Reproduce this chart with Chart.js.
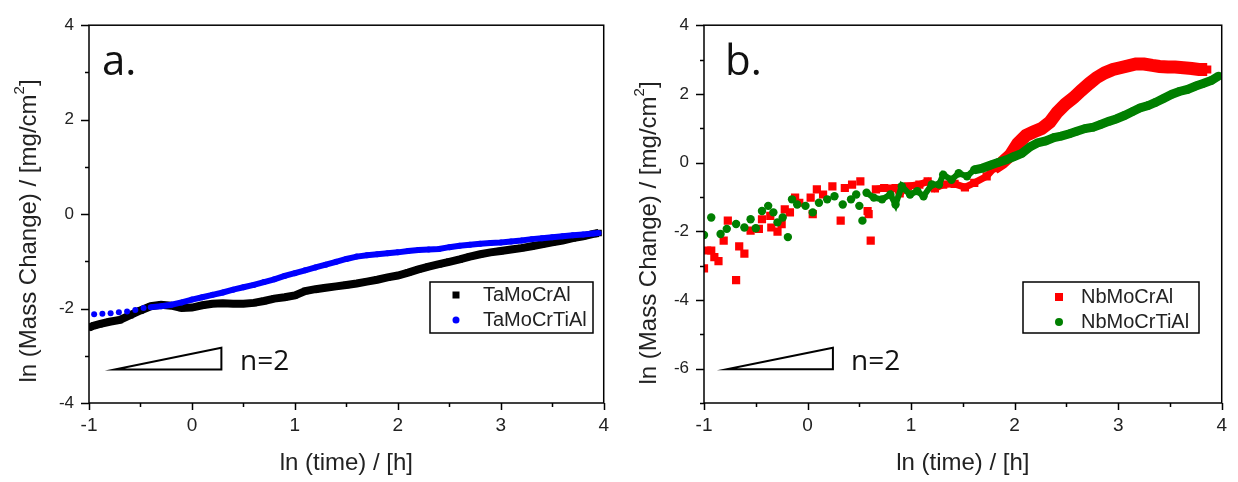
<!DOCTYPE html>
<html>
<head>
<meta charset="utf-8">
<script src="https://cdn.jsdelivr.net/npm/chart.js@4/dist/chart.umd.min.js"></script>
<style>
  html, body { margin: 0; padding: 0; background: #fff; }
  .wrap { position: relative; width: 1238px; height: 482px; }
  .panel { position: absolute; top: 0; height: 482px; }
  #panelA { left: 0; width: 620px; }
  #panelB { left: 620px; width: 618px; }
</style>
</head>
<body>
<div class="wrap">
  <div class="panel" id="panelA"><canvas id="chartA"></canvas></div>
  <div class="panel" id="panelB"><canvas id="chartB"></canvas></div>
</div>
<script>
// Axis ranges and labels
const xRange = [-1, 4];
const yRangeA = [-4, 4];
const yRangeB = [-7, 4];
const xTitle = 'ln (time) / [h]';
const yTitle = ['ln (Mass Change) / [mg/cm', '2', ']'];

// Panel a
const seriesA = ['TaMoCrAl', 'TaMoCrTiAl'];
const timeTa = [-1.0, -0.95, -0.9, -0.8, -0.7, -0.6, -0.5, -0.4, -0.3, -0.2, -0.1, 0, 0.1, 0.2, 0.3, 0.4, 0.5, 0.6, 0.7, 0.8, 0.9, 1.0,
  1.1, 1.2, 1.3, 1.4, 1.5, 1.6, 1.7, 1.8, 1.9, 2.0, 2.1, 2.2, 2.3, 2.4, 2.5, 2.6, 2.7, 2.8, 2.9, 3.0, 3.1, 3.2, 3.3, 3.4, 3.5, 3.6, 3.7, 3.8, 3.9, 3.95];
const massTa = [-2.40, -2.36, -2.33, -2.28, -2.24, -2.14, -2.04, -1.95, -1.92, -1.94, -1.99, -1.98, -1.93, -1.90, -1.89, -1.90, -1.90, -1.88, -1.84, -1.79, -1.76, -1.72,
  -1.63, -1.59, -1.56, -1.53, -1.50, -1.47, -1.43, -1.39, -1.34, -1.30, -1.24, -1.17, -1.11, -1.06, -1.01, -0.96, -0.90, -0.85, -0.81, -0.78, -0.75, -0.72, -0.68, -0.64, -0.60, -0.56, -0.51, -0.47, -0.42, -0.40];
const timeTaTi = [-0.95, -0.87, -0.79, -0.71, -0.63, -0.55, -0.47, -0.4, -0.3, -0.2, -0.1, 0, 0.1, 0.2, 0.3, 0.4, 0.5, 0.6, 0.7, 0.8, 0.9, 1.0,
  1.1, 1.2, 1.3, 1.4, 1.5, 1.6, 1.7, 1.8, 1.9, 2.0, 2.1, 2.2, 2.3, 2.4, 2.5, 2.6, 2.7, 2.8, 2.9, 3.0, 3.1, 3.2, 3.3, 3.4, 3.5, 3.6, 3.7, 3.8, 3.9, 3.95];
const massTaTi = [-2.12, -2.11, -2.10, -2.08, -2.06, -2.03, -1.99, -1.97, -1.95, -1.92, -1.87, -1.81, -1.76, -1.71, -1.66, -1.60, -1.55, -1.50, -1.44, -1.38, -1.31, -1.25,
  -1.19, -1.13, -1.07, -1.01, -0.95, -0.90, -0.87, -0.85, -0.83, -0.81, -0.78, -0.76, -0.75, -0.74, -0.70, -0.67, -0.65, -0.63, -0.61, -0.60, -0.58, -0.56, -0.53, -0.51, -0.49, -0.47, -0.45, -0.43, -0.41, -0.40];

// Panel b
const seriesB = ['NbMoCrAl', 'NbMoCrTiAl'];
const timeNb = [-1.0, -0.97, -0.93, -0.90, -0.86, -0.81, -0.77, -0.69, -0.66, -0.61, -0.55, -0.47, -0.44, -0.36, -0.35, -0.29, -0.25, -0.22, -0.17, -0.12, -0.08,
  0.03, 0.05, 0.09, 0.15, 0.24, 0.32, 0.36, 0.43, 0.51, 0.58, 0.59, 0.61, 0.66, 0.74, 0.85, 0.89, 0.97, 1.08, 1.16, 1.23, 1.31, 1.42, 1.52, 1.61, 1.73, 1.80, 1.88, 1.96,
  2.03, 2.11, 2.18, 2.26, 2.34, 2.41, 2.49, 2.57, 2.64, 2.72, 2.79, 2.87, 2.95, 3.02, 3.10, 3.17, 3.25, 3.33, 3.40, 3.48, 3.55, 3.63, 3.71, 3.78, 3.86];
const massNb = [-3.08, -2.56, -2.56, -2.75, -2.87, -2.27, -1.69, -3.42, -2.44, -2.65, -1.98, -1.93, -1.65, -1.55, -1.89, -2.01, -1.79, -1.36, -1.45, -1.02, -1.17,
  -1.02, -1.50, -0.78, -0.93, -0.69, -1.69, -0.74, -0.64, -0.55, -1.41, -1.50, -2.27, -0.78, -0.74, -0.74, -0.90, -0.69, -0.64, -0.55, -0.75, -0.64, -0.62, -0.72, -0.59, -0.40, -0.16, 0.00, 0.22,
  0.55, 0.79, 0.89, 0.99, 1.18, 1.46, 1.70, 1.89, 2.09, 2.30, 2.47, 2.61, 2.71, 2.76, 2.82, 2.87, 2.87, 2.83, 2.80, 2.78, 2.78, 2.76, 2.74, 2.71, 2.71];
const timeNbTi = [-1.0, -0.93, -0.84, -0.78, -0.69, -0.61, -0.55, -0.50, -0.44, -0.38, -0.33, -0.29, -0.24, -0.19, -0.15, -0.10, -0.02, 0.05, 0.11, 0.19, 0.26,
  0.34, 0.42, 0.47, 0.50, 0.53, 0.57, 0.64, 0.72, 0.80, 0.85, 0.91, 0.99, 1.06, 1.12, 1.20, 1.27, 1.31, 1.39, 1.46, 1.54, 1.61, 1.69, 1.77, 1.84, 1.92, 1.99,
  2.07, 2.15, 2.22, 2.30, 2.38, 2.45, 2.53, 2.60, 2.68, 2.76, 2.83, 2.91, 2.98, 3.06, 3.14, 3.21, 3.29, 3.36, 3.44, 3.52, 3.59, 3.67, 3.75, 3.82, 3.90, 3.97];
const massNbTi = [-2.11, -1.60, -2.08, -1.93, -1.79, -1.89, -1.65, -1.91, -1.41, -1.26, -1.45, -1.74, -1.60, -2.17, -1.07, -1.22, -1.26, -1.45, -1.17, -1.07, -0.98,
  -1.22, -1.07, -0.93, -1.26, -1.69, -0.88, -1.02, -1.07, -0.93, -1.22, -0.69, -0.93, -0.83, -0.98, -0.64, -0.64, -0.35, -0.50, -0.31, -0.40, -0.21, -0.16, -0.07, 0.00, 0.08, 0.17,
  0.27, 0.46, 0.57, 0.63, 0.73, 0.77, 0.84, 0.91, 0.99, 1.03, 1.11, 1.20, 1.27, 1.37, 1.49, 1.59, 1.66, 1.75, 1.87, 1.99, 2.07, 2.13, 2.23, 2.30, 2.39, 2.52];

// "n=2" slope triangles, in data units
const slopeA = [[-0.75, -3.29], [0.286, -3.29], [0.286, -2.83]];
const slopeB = [[-0.78, -6.02], [0.245, -6.02], [0.245, -5.39]];

const FONT = '"Liberation Sans", Arial, sans-serif';
const INK = '#222';

const toPoints = (xs, ys) => xs.map((x, i) => ({ x: x, y: ys[i] }));
// dense stretches of a series are drawn as a thick band, sparse ones as bare markers
const bandFrom = (color, x0) => ctx => ctx.p0.parsed.x >= x0 ? color : 'transparent';
const bandWidth = (x1, thin, thick) => ctx => ctx.p0.parsed.x >= x1 ? thick : thin;

// frame, ticks, panel letter, slope triangle, y title, legend
const decoPlugin = {
  id: 'deco',
  afterDraw(chart, args, o) {
    const ctx = chart.ctx;
    const { left, right, top, bottom } = chart.chartArea;
    const xs = chart.scales.x, ys = chart.scales.y;
    ctx.save();
    ctx.strokeStyle = '#000';
    ctx.lineWidth = 1.5;
    ctx.strokeRect(left, top, right - left, bottom - top);
    ctx.beginPath();
    xs.ticks.forEach((t, i) => {
      const px = Math.round(xs.getPixelForTick(i)) + 0.5;
      const len = t.label === '' ? 4 : 7;
      ctx.moveTo(px, bottom);
      ctx.lineTo(px, bottom + len);
    });
    ys.ticks.forEach((t, i) => {
      const py = Math.round(ys.getPixelForTick(i)) + 0.5;
      const len = t.label === '' ? 4 : 8;
      ctx.moveTo(left, py);
      ctx.lineTo(left - len, py);
    });
    ctx.stroke();

    // slope triangle
    ctx.lineWidth = 2;
    ctx.beginPath();
    o.tri.forEach((p, i) => {
      const px = xs.getPixelForValue(p[0]), py = ys.getPixelForValue(p[1]);
      if (i === 0) ctx.moveTo(px, py); else ctx.lineTo(px, py);
    });
    ctx.closePath();
    ctx.stroke();

    ctx.fillStyle = '#111';
    ctx.textAlign = 'left';
    ctx.textBaseline = 'alphabetic';
    ctx.font = '28px "Open Sans", sans-serif';
    ctx.fillText('n=2', o.nPos[0], o.nPos[1]);
    ctx.font = '42px "Open Sans", sans-serif';
    ctx.fillText(o.letter, o.letterPos[0], o.letterPos[1]);

    // y axis title with superscript
    ctx.translate(o.titlePos[0], o.titlePos[1]);
    ctx.rotate(-Math.PI / 2);
    ctx.fillStyle = INK;
    ctx.textBaseline = 'middle';
    const big = '24px ' + FONT, small = '15px ' + FONT;
    ctx.font = big;
    const w1 = ctx.measureText(yTitle[0]).width;
    const w3 = ctx.measureText(yTitle[2]).width;
    ctx.font = small;
    const w2 = ctx.measureText(yTitle[1]).width;
    let tx = -(w1 + w2 + w3) / 2;
    ctx.font = big;
    ctx.fillText(yTitle[0], tx, 0);
    tx += w1;
    ctx.font = small;
    ctx.fillText(yTitle[1], tx, -9);
    tx += w2;
    ctx.font = big;
    ctx.fillText(yTitle[2], tx, 0);
    ctx.restore();

    // legend box
    const lg = o.legend;
    ctx.save();
    ctx.fillStyle = '#fff';
    ctx.fillRect(lg.box[0], lg.box[1], lg.box[2], lg.box[3]);
    ctx.strokeStyle = '#000';
    ctx.lineWidth = 1.5;
    ctx.strokeRect(lg.box[0], lg.box[1], lg.box[2], lg.box[3]);
    chart.data.datasets.forEach((ds, i) => {
      const y = lg.rows[i];
      ctx.fillStyle = ds.pointBackgroundColor;
      const r = lg.size;
      if (ds.pointStyle === 'rect') {
        ctx.fillRect(lg.markerX - r, y - r, 2 * r, 2 * r);
      } else {
        ctx.beginPath();
        ctx.arc(lg.markerX, y, r, 0, Math.PI * 2);
        ctx.fill();
      }
      ctx.fillStyle = INK;
      ctx.font = '20px ' + FONT;
      ctx.textAlign = 'left';
      ctx.textBaseline = 'middle';
      ctx.fillText(ds.label, lg.textX, y);
    });
    ctx.restore();
  }
};

const makeOptions = (yRange, yWidth, rightPad, deco) => ({
  responsive: true,
  maintainAspectRatio: false,
  animation: false,
  layout: { padding: { top: 20, right: rightPad, left: 0, bottom: 0 } },
  plugins: {
    legend: { display: false },
    tooltip: { enabled: false },
    deco: deco
  },
  scales: {
    x: {
      type: 'linear',
      min: xRange[0],
      max: xRange[1],
      grid: { display: false, drawTicks: false },
      border: { display: false },
      afterFit: s => { s.height = 79; },
      ticks: {
        stepSize: 0.5,
        autoSkip: false,
        maxRotation: 0,
        padding: 11,
        color: INK,
        font: { family: FONT, size: 19 },
        callback: v => Number.isInteger(v) ? v : ''
      },
      title: {
        display: true,
        text: xTitle,
        color: INK,
        font: { family: FONT, size: 24 },
        padding: { top: 0, bottom: 4 }
      }
    },
    y: {
      type: 'linear',
      min: yRange[0],
      max: yRange[1],
      grid: { display: false, drawTicks: false },
      border: { display: false },
      afterFit: s => { s.width = yWidth; },
      ticks: {
        stepSize: 1,
        autoSkip: false,
        padding: 15,
        color: INK,
        font: { family: FONT, size: 17 },
        callback: v => v % 2 === 0 ? v : ''
      }
    }
  }
});

new Chart(document.getElementById('chartA'), {
  type: 'scatter',
  data: {
    datasets: [{
      label: seriesA[0],
      data: toPoints(timeTa, massTa),
      pointStyle: 'rect',
      pointRadius: 4.6,
      pointBackgroundColor: '#000',
      pointBorderWidth: 0,
      showLine: true,
      borderWidth: 8,
      borderColor: '#000',
      order: 1
    }, {
      label: seriesA[1],
      data: toPoints(timeTaTi, massTaTi),
      pointStyle: 'circle',
      pointRadius: 3,
      pointBackgroundColor: '#0000ff',
      pointBorderWidth: 0,
      showLine: true,
      borderWidth: 6,
      borderColor: '#0000ff',
      segment: { borderColor: bandFrom('#0000ff', -0.45) },
      order: 0
    }]
  },
  options: makeOptions(yRangeA, 89, 10, {
    tri: slopeA,
    nPos: [240, 370],
    letter: 'a.',
    letterPos: [102, 75],
    titlePos: [29, 231],
    legend: { box: [430, 282, 163, 51], markerX: 456, textX: 483, rows: [295, 320], size: 3.5 }
  }),
  plugins: [decoPlugin]
});

new Chart(document.getElementById('chartB'), {
  type: 'scatter',
  data: {
    datasets: [{
      label: seriesB[0],
      data: toPoints(timeNb, massNb),
      pointStyle: 'rect',
      pointRadius: 5.8,
      pointBackgroundColor: '#ff0000',
      pointBorderWidth: 0,
      showLine: true,
      borderWidth: 8,
      borderColor: '#ff0000',
      segment: {
        borderColor: bandFrom('#ff0000', 0.64),
        borderWidth: bandWidth(1.75, 7, 13)
      },
      order: 1
    }, {
      label: seriesB[1],
      data: toPoints(timeNbTi, massNbTi),
      pointStyle: 'circle',
      pointRadius: 4.2,
      pointBackgroundColor: '#007f00',
      pointBorderWidth: 0,
      showLine: true,
      borderWidth: 8,
      borderColor: '#007f00',
      segment: {
        borderColor: bandFrom('#007f00', 0.55),
        borderWidth: bandWidth(1.55, 6, 9)
      },
      order: 0
    }]
  },
  options: makeOptions(yRangeB, 84, 16, {
    tri: slopeB,
    nPos: [231, 370],
    letter: 'b.',
    letterPos: [105, 75],
    titlePos: [29, 233],
    legend: { box: [403, 282, 176, 51], markerX: 439, textX: 461, rows: [297, 322], size: 4 }
  }),
  plugins: [decoPlugin]
});
</script>
</body>
</html>
